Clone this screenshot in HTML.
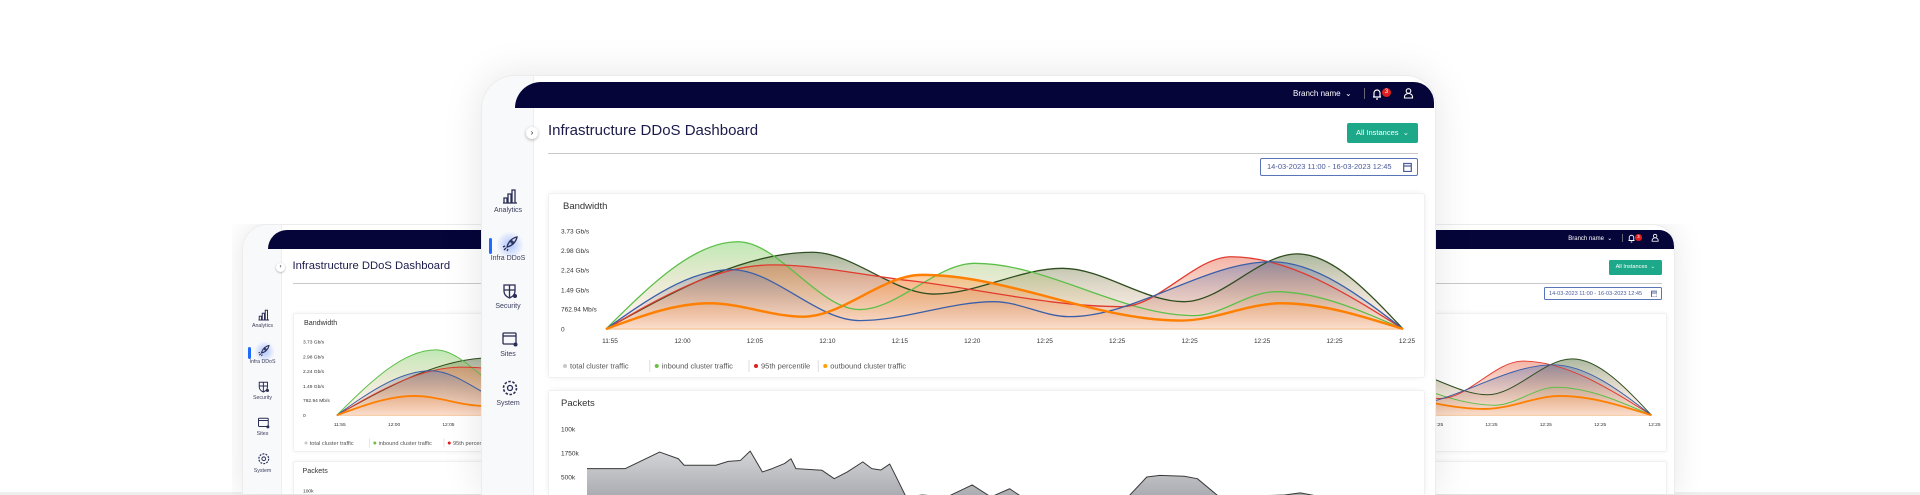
<!DOCTYPE html>
<html><head><meta charset="utf-8">
<style>
*{box-sizing:border-box;margin:0;padding:0}
html,body{width:1920px;height:495px;overflow:hidden}
body{background:#fff;font-family:"Liberation Sans",sans-serif;position:relative}
.floor{position:absolute;left:0;top:492px;width:1920px;height:3px;background:#efefef}
.frame{position:absolute;width:955px;height:420px;background:#fff;border-radius:34px 30px 0 0;box-shadow:0 0 40px rgba(0,0,0,0.10);border:1px solid #ececec;border-bottom:none;overflow:hidden}
.wrap{position:absolute;width:730px;height:271px;overflow:hidden}
.side{position:absolute;left:0;top:0;width:52px;height:100%;background:#f8f9fb;border-right:1px solid #eceef2}
.navy{position:absolute;left:33px;top:6px;width:919px;height:26px;background:#06053a;border-radius:28px 22px 0 0}
.nv{position:absolute;color:#fff;font-size:8px}
.si{position:absolute;left:0;width:52px;text-align:center;font-size:7px;color:#3a3d5c}
.ic{position:absolute;left:19px;width:18px;height:18px}
.glow{position:absolute;left:14px;top:155px;width:28px;height:28px;border-radius:50%;background:radial-gradient(circle,rgba(80,130,255,.45),rgba(80,130,255,0) 70%)}
.ind{position:absolute;left:7px;top:162px;width:3px;height:16px;background:#1f6bff;border-radius:2px}
.chev{position:absolute;left:44px;top:51px;width:12px;height:12px;border-radius:50%;background:#fff;box-shadow:0 1px 3px rgba(0,0,0,.3);font-size:8px;text-align:center;line-height:12px;color:#222}
.title{position:absolute;left:66px;top:46px;font-size:15px;color:#1b1b4b}
.btn{position:absolute;left:865px;top:47px;width:71px;height:20px;background:#1da889;color:#fff;font-size:7.5px;line-height:20px;text-align:center;border-radius:2px}
.sep{position:absolute;left:66px;top:77px;width:870px;height:1px;background:#c9c9cc}
.date{position:absolute;left:778px;top:82px;width:158px;height:18px;border:1px solid #5a74b8;border-radius:2px;font-size:7.5px;color:#4a5a9a;line-height:16px;padding-left:6px;white-space:nowrap}
.card{position:absolute;left:66px;width:877px;background:#fff;border:1px solid #f0f0f2;border-radius:3px;box-shadow:0 0 6px rgba(0,0,0,.06);overflow:hidden}
.ct{position:absolute;font-size:9.5px;color:#333}
svg text{font-family:"Liberation Sans",sans-serif}
</style></head><body>
<div class="floor"></div>
<div class="wrap" id="wl" style="left:232px;top:224px"></div>
<div class="wrap" id="wr" style="left:949px;top:224px;width:760px"></div>

<div class="frame" id="main" style="left:481px;top:75px;z-index:3">
  <div class="side"></div>
  <div class="navy"></div>
  <div class="nv" style="left:811px;top:13px">Branch name &nbsp;⌄</div>
  <div class="nv" style="left:882px;top:12px;width:1px;height:11px;background:#667"></div>
  <svg class="nv" style="left:889px;top:11px" width="12" height="13"><path d="M2 10h8M3 10V6a3 3 0 0 1 6 0v4M5 12h2" stroke="#fff" fill="none" stroke-width="1.2"/></svg>
  <div class="nv" style="left:900px;top:12px;width:9px;height:9px;border-radius:50%;background:#e02020;font-size:6px;text-align:center;line-height:9px">3</div>
  <svg class="nv" style="left:921px;top:11px" width="11" height="12"><circle cx="5.5" cy="4" r="2.3" stroke="#fff" fill="none" stroke-width="1.1"/><path d="M1.5 11v-1.5a4 3 0 0 1 8 0V11z" stroke="#fff" fill="none" stroke-width="1.1"/></svg>

  <div class="chev">›</div>
  <svg class="ic" style="top:111px" viewBox="0 0 18 18"><path d="M3 16V11h3v5M7 16V7h3v9M11 16V3h3v13M2 16h14" stroke="#2a2d55" fill="none" stroke-width="1.3"/></svg>
  <div class="si" style="top:131px">Analytics</div>
  <div class="glow"></div>
  <div class="ind"></div>
  <svg class="ic" style="top:159px" viewBox="0 0 18 18"><path d="M5 13l-2 2M7 14l-1 2M4 11l-2 1M6 12c1-5 5-9 10-10-1 5-5 9-10 10zM11 6a1 1 0 1 0 .1 0" stroke="#2a2d55" fill="none" stroke-width="1.3"/></svg>
  <div class="si" style="top:179px">Infra DDoS</div>
  <svg class="ic" style="top:206px" viewBox="0 0 18 18"><path d="M3 3h11v6c0 4-3 6-5.5 7C6 15 3 13 3 9zM8.5 3v12M3 8h11" stroke="#2a2d55" fill="none" stroke-width="1.3"/><circle cx="14" cy="14" r="2" fill="#2a2d55"/></svg>
  <div class="si" style="top:227px">Security</div>
  <svg class="ic" style="top:254px" viewBox="0 0 18 18"><rect x="2" y="3" width="13" height="11" rx="1" stroke="#2a2d55" fill="none" stroke-width="1.3"/><path d="M2 6h13" stroke="#2a2d55" stroke-width="1.3"/><circle cx="14.5" cy="14.5" r="2" fill="#2a2d55"/></svg>
  <div class="si" style="top:275px">Sites</div>
  <svg class="ic" style="top:303px" viewBox="0 0 18 18"><circle cx="9" cy="9" r="2.5" stroke="#2a2d55" fill="none" stroke-width="1.3"/><circle cx="9" cy="9" r="6.5" stroke="#2a2d55" fill="none" stroke-width="1.6" stroke-dasharray="2.5 1.6"/></svg>
  <div class="si" style="top:324px">System</div>

  <div class="title">Infrastructure DDoS Dashboard</div>
  <div class="btn">All Instances &nbsp;⌄</div>
  <div class="sep"></div>
  <div class="date">14-03-2023 11:00 - 16-03-2023 12:45
    <svg style="position:absolute;right:5px;top:3px" width="9" height="10"><rect x="0.7" y="1.5" width="7.6" height="8" stroke="#4a5a9a" fill="none" stroke-width="1.2"/><path d="M1 4h7" stroke="#4a5a9a" stroke-width="1.2"/></svg>
  </div>

  <div class="card" style="top:117px;height:185px">
    <div class="ct" style="left:14px;top:7px">Bandwidth</div>
    <svg class="bw" width="877" height="185" style="position:absolute;left:0;top:0"></svg>
  </div>
  <div class="card" style="top:314px;height:106px;border-bottom:none">
    <div class="ct" style="left:12px;top:7px">Packets</div>
    <svg class="pk" width="877" height="106" style="position:absolute;left:0;top:0"></svg>
  </div>
</div>

<script>
// ---- Bandwidth data ----
const xLabels = ["11:55","12:00","12:05","12:10","12:15","12:20","12:25","12:25","12:25","12:25","12:25","12:25"];
const yTickValues = [0, 0.763, 1.49, 2.24, 2.98, 3.73];
const yTickLabels = ["0","762.94 Mb/s","1.49 Gb/s","2.24 Gb/s","2.98 Gb/s","3.73 Gb/s"];
const totalX = [0, 2.85, 4.53, 6.30, 7.98, 9.54, 11];
const totalV = [0, 2.92, 1.33, 2.31, 1.04, 2.86, 0];
const inboundX = [0, 1.82, 3.50, 5.09, 8.12, 9.24, 11];
const inboundV = [0, 3.32, 0.74, 2.50, 0.51, 1.42, 0];
const p95X = [0, 2.29, 4.19, 7.12, 8.63, 11];
const p95V = [0, 2.44, 1.84, 0.85, 2.75, 0];
const attackX = [0, 1.73, 3.50, 5.36, 6.39, 9.19, 11];
const attackV = [0, 2.26, 0.32, 1.04, 0.47, 2.56, 0];
const outboundX = [0, 1.43, 2.72, 4.36, 7.94, 9.32, 11];
const outboundV = [0, 0.98, 0.47, 2.06, 0.32, 0.98, 0];
const legendNames = ["total cluster traffic","inbound cluster traffic","95th percentile","outbound cluster traffic"];
// ---- Packets data ----
const pktTickValues = [3, 2, 1];
const pktTickLabels = ["100k","1750k","500k"];
const pktT = [0,4.7,8.9,11.2,11.9,15.8,17.3,18.8,20.0,21.5,22.7,24.2,25.0,25.6,28.8,30.3,31.9,33.8,34.9,36.0,37.1,38.0,39.1,41.1,44.1,47.2,49.5,51.8,53.3,66.3,68.6,70.2,73.2,74.8,77.5,85.5,87.4,90.1,100];
const pktV = [1.35,1.35,2.04,1.76,1.49,1.49,1.65,1.69,2.08,1.21,1.35,1.56,1.76,1.35,1.28,0.93,1.21,1.63,1.35,1.29,1.54,0.93,0.17,0.25,0.1,0.67,0.17,0.51,0.1,0.1,1.0,1.07,1.03,0.93,0.1,0.25,0.34,0.1,0.1];

const NS = "http://www.w3.org/2000/svg";
function mk(tag, attrs, parent){const e=document.createElementNS(NS,tag);for(const k in attrs)e.setAttribute(k,attrs[k]);parent.appendChild(e);return e;}
function monoPath(px, py){
  const n=px.length, t=new Array(n), s=[];
  for(let i=0;i<n-1;i++) s.push((py[i+1]-py[i])/(px[i+1]-px[i]));
  for(let i=1;i<n-1;i++){
    const h0=px[i]-px[i-1], h1=px[i+1]-px[i], s0=s[i-1], s1=s[i];
    const p=(s0*h1+s1*h0)/(h0+h1);
    t[i]=(Math.sign(s0)+Math.sign(s1))*Math.min(Math.abs(s0),Math.abs(s1),0.5*Math.abs(p))||0;
  }
  t[0]=n>2?(3*s[0]-t[1])/2:s[0]; t[n-1]=n>2?(3*s[n-2]-t[n-2])/2:s[n-2];
  let d="M"+px[0]+","+py[0];
  for(let i=0;i<n-1;i++){const h=(px[i+1]-px[i])/3;
    d+="C"+(px[i]+h)+","+(py[i]+t[i]*h)+" "+(px[i+1]-h)+","+(py[i+1]-t[i+1]*h)+" "+px[i+1]+","+py[i+1];}
  return d;
}

const bx0=57, bx1=854, by0=135, byTop=37, bMax=3.73;
const bxs = i => bx0 + i*(bx1-bx0)/(xLabels.length-1);
const bys = v => by0 - v*(by0-byTop)/bMax;
const bw = document.querySelector("#main .bw");
const defs = mk("defs",{},bw);
const series = [
  {name:"total-traffic", xs:totalX, vs:totalV, color:"#2f4d1f", fill:"#4f6e3c", w:1.3},
  {name:"inbound-traffic", xs:inboundX, vs:inboundV, color:"#5cbf48", fill:"#7fd46c", w:1.3},
  {name:"p95-percentile", xs:p95X, vs:p95V, color:"#e23a2e", fill:"#e86a50", w:1.3},
  {name:"attack-traffic", xs:attackX, vs:attackV, color:"#3a5fa8", fill:"#5a7ab8", w:1.3},
  {name:"outbound-traffic", xs:outboundX, vs:outboundV, color:"#ff7f00", fill:"#ff9a40", w:2.4}
];
series.forEach((s,k)=>{
  const g=mk("linearGradient",{id:"g"+k,x1:0,y1:0,x2:0,y2:1},defs);
  mk("stop",{offset:"0","stop-color":s.fill,"stop-opacity":"0.5"},g);
  mk("stop",{offset:"1","stop-color":"#f2a070","stop-opacity":"0.08"},g);
});
yTickValues.forEach((v,i)=>{
  const t=mk("text",{x:12,y:bys(v)+2.5,"font-size":"6.5",fill:"#333"},bw);
  t.textContent=yTickLabels[i];
  
  
});
xLabels.forEach((l,i)=>{
  const t=mk("text",{x:bxs(i)+4,y:149,"font-size":"6.5",fill:"#333","text-anchor":"middle"},bw);
  t.textContent=l;
  
  
});
series.forEach((s,k)=>{
  const px=s.xs.map(bxs), py=s.vs.map(bys);
  const d=monoPath(px,py);
  const a=mk("path",{d:d+"L"+px[px.length-1]+","+by0+"L"+px[0]+","+by0+"Z",fill:"url(#g"+k+")"},bw);
  
  
});
mk("line",{x1:bx0,x2:bx1,y1:by0,y2:by0,stroke:"#f6c9a0","stroke-width":1.5},bw);
series.forEach((s,k)=>{
  const px=s.xs.map(bxs), py=s.vs.map(bys);
  const l=mk("path",{d:monoPath(px,py),fill:"none",stroke:s.color,"stroke-width":s.w},bw);
  
  
});
const legColors=["#c8c8c8","#6cc040","#e02020","#ffa000"];
let lx=14;
legendNames.forEach((n,i)=>{
  const c=mk("circle",{cx:lx+2,cy:172,r:2,fill:legColors[i]},bw);
  
  
  const t=mk("text",{x:lx+7,y:174.5,"font-size":"7.5",fill:"#555"},bw);
  t.textContent=n;
  
  
  const w=n.length*3.75;
  lx+=w+13;
  if(i<legendNames.length-1){const sp=mk("line",{x1:lx-5,x2:lx-5,y1:166,y2:178,stroke:"#ddd"},bw);
    
    }
});

const px0=38, px1=854, pBase=110, pUnit=24;
const pxs = t => px0 + t*(px1-px0)/100;
const pys = v => pBase - v*pUnit;
const pk = document.querySelector("#main .pk");
const pdefs = mk("defs",{},pk);
const pg = mk("linearGradient",{id:"pg",x1:0,y1:0,x2:0,y2:1},pdefs);
mk("stop",{offset:"0","stop-color":"#d4d5d8"},pg);
mk("stop",{offset:"1","stop-color":"#a9abb0"},pg);
pktTickValues.forEach((v,i)=>{
  const t=mk("text",{x:12,y:pys(v)+2.5,"font-size":"6.5",fill:"#333"},pk);
  t.textContent=pktTickLabels[i];
  
  
});
{
  const X=pktT.map(pxs), Y=pktV.map(v=>Math.min(pys(v),106));
  let d="M"+X[0]+","+Y[0]; for(let i=1;i<X.length;i++) d+="L"+X[i]+","+Y[i];
  const a=mk("path",{d:d+"L"+X[X.length-1]+",106L"+X[0]+",106Z",fill:"url(#pg)"},pk);
  
  
  const l=mk("path",{d:d,fill:"none",stroke:"#3a3a3a","stroke-width":1,"stroke-linejoin":"round"},pk);
  
  
}

const main=document.getElementById("main");
[["left-dashboard-device","wl"],["right-dashboard-device","wr"]].forEach(([nm,wid])=>{
  const c=main.cloneNode(true);
  c.removeAttribute("id");
  
  c.style.left=(10/0.75)+"px"; c.style.top="0px"; c.style.zIndex=1;
  c.style.height="360px";
  c.style.zoom="0.75";
  const pc=c.querySelectorAll(".card")[1];
  pc.style.height="46px";
  const ps=pc.querySelector("svg");
  ps.setAttribute("height","46");
  ps.querySelectorAll("path").forEach(p=>p.remove());
  ps.querySelectorAll("text").forEach((t,i)=>{if(i>0)t.remove();});
  c.querySelectorAll("linearGradient").forEach(g=>{g.id=g.id+nm;});
  c.querySelectorAll("path").forEach(p=>{const f=p.getAttribute("fill");if(f&&f.startsWith("url(#"))p.setAttribute("fill",f.replace(")",nm+")"));});
  document.getElementById(wid).appendChild(c);
});
</script>
</body></html>
